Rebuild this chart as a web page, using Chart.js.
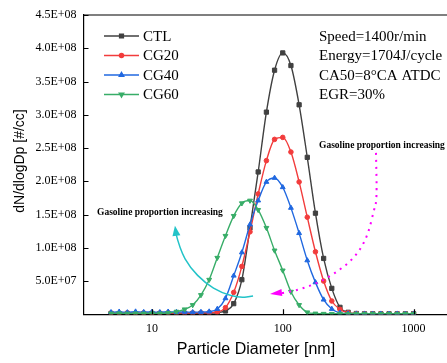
<!DOCTYPE html>
<html>
<head>
<meta charset="utf-8">
<script src="https://cdn.jsdelivr.net/npm/chart.js@4.4.1/dist/chart.umd.min.js"></script>
<style>
  html, body { margin: 0; padding: 0; background: #fff; overflow: hidden; }
  #canvasDiv { width: 447px; height: 363px; overflow: hidden; }
</style>
</head>
<body>
<div id="canvasDiv"><canvas id="myChart" width="490" height="363"></canvas></div>
<script>
// particle diameters [nm], 16 channels per decade
const diameters = [4.87, 5.62, 6.49, 7.50, 8.66, 10.0, 11.5, 13.3, 15.4, 17.8, 20.5, 23.7, 27.4, 31.6,
  36.5, 42.2, 48.7, 56.2, 64.9, 75.0, 86.6, 100, 115.5, 133.4, 154.0, 177.8, 205.4, 237.1, 273.8,
  316.2, 365.2, 421.7, 487.0, 562.3, 649.4, 749.9, 866.0, 1000];

// dN/dlogDp in units of 1E+08 #/cc
const ctl = [0.012, 0.010, 0.012, 0.010, 0.011, 0.012, 0.010, 0.013, 0.012, 0.014, 0.012, 0.013, 0.015, 0.025,
  0.05, 0.16, 0.52, 1.30, 2.14, 3.04, 3.67, 3.93, 3.74, 3.15, 2.36, 1.52, 0.84, 0.39, 0.105, 0.03, 0.012,
  0.008, 0.008, 0.007, 0.008, 0.007, 0.008, 0.009];
const cg20 = [0.020, 0.018, 0.022, 0.019, 0.021, 0.018, 0.020, 0.022, 0.019, 0.021, 0.020, 0.022, 0.024,
  0.035, 0.10, 0.33, 0.72, 1.24, 1.81, 2.31, 2.63, 2.66, 2.44, 1.99, 1.46, 0.94, 0.50, 0.20, 0.075, 0.022, 0.010,
  0.008, 0.007, 0.008, 0.007, 0.008, 0.007, 0.008];
const cg40 = [0.030, 0.038, 0.028, 0.040, 0.032, 0.035, 0.030, 0.038, 0.033, 0.036, 0.030, 0.034,
  0.04, 0.08, 0.24, 0.58, 0.93, 1.35, 1.71, 1.99, 2.05, 1.91, 1.60, 1.22, 0.81, 0.48, 0.22, 0.08, 0.022, 0.010,
  0.008, 0.008, 0.007, 0.008, 0.007, 0.008, 0.007, 0.008];
const cg60 = [0.012, 0.015, 0.011, 0.014, 0.012, 0.015, 0.013,
  0.02, 0.04, 0.075, 0.14, 0.29, 0.52, 0.85, 1.18, 1.48, 1.67, 1.71, 1.57, 1.30, 0.96, 0.66, 0.34, 0.14, 0.03, 0.012,
  0.008, 0.007, 0.008, 0.007, 0.008, 0.007, 0.008, 0.007, 0.008, 0.007, 0.008, 0.007];

const seriesNames = ['CTL', 'CG20', 'CG40', 'CG60'];
const seriesValues = [ctl, cg20, cg40, cg60];
const seriesColors = ['#404040', '#f23c3c', '#2068e0', '#38ad68'];
const seriesPoints = ['rect', 'circle', 'triangle', 'triangle'];
const seriesRotation = [0, 0, 0, 180];
const seriesRadius = [3.0, 2.3, 2.8, 2.8];

const xTicks = [10, 100, 1000];
const yMax = 4.5e8, yStep = 5e7;

const conditionText = ['Speed=1400r/min', 'Energy=1704J/cycle', 'CA50=8\u00B0CA ATDC', 'EGR=30%'];
const arrowLabel = 'Gasoline proportion increasing';
// arrow paths in data coordinates [diameter nm, dN/dlogDp], first point is the tip
const cyanArrow = [[15.0, 1.33e8], [16.4, 0.97e8], [19.6, 0.70e8], [25.5, 0.47e8], [34.3, 0.32e8], [47.1, 0.245e8], [59.3, 0.275e8]];
const pinkArrow = [[79.9, 0.305e8], [124, 0.35e8], [186, 0.47e8], [274, 0.665e8], [369, 0.89e8], [448, 1.19e8], [498, 1.57e8], [525, 1.72e8], [516, 2.44e8]];

function sci(v) {
  if (v === 0) return '';
  let e = Math.floor(Math.log10(v) + 1e-9);
  let m = v / Math.pow(10, e);
  return m.toFixed(1) + 'E+' + String(e).padStart(2, '0');
}

function smoothPath(ctx, pts) {
  ctx.moveTo(pts[0][0], pts[0][1]);
  for (let i = 1; i < pts.length - 1; i++) {
    let mx = (pts[i][0] + pts[i + 1][0]) / 2, my = (pts[i][1] + pts[i + 1][1]) / 2;
    ctx.quadraticCurveTo(pts[i][0], pts[i][1], mx, my);
  }
  let last = pts[pts.length - 1];
  ctx.lineTo(last[0], last[1]);
}

function arrowHead(ctx, tip, from, len, half) {
  let ang = Math.atan2(tip[1] - from[1], tip[0] - from[0]);
  ctx.beginPath();
  ctx.moveTo(tip[0], tip[1]);
  ctx.lineTo(tip[0] - len * Math.cos(ang) + half * Math.sin(ang), tip[1] - len * Math.sin(ang) - half * Math.cos(ang));
  ctx.lineTo(tip[0] - len * Math.cos(ang) - half * Math.sin(ang), tip[1] - len * Math.sin(ang) + half * Math.cos(ang));
  ctx.closePath();
  ctx.fill();
}

const decor = {
  id: 'decor',
  afterDraw(chart) {
    const ctx = chart.ctx, a = chart.chartArea, x = chart.scales.x, y = chart.scales.y;
    ctx.save();

    // top frame line and inward tick marks
    ctx.strokeStyle = '#000';
    ctx.lineWidth = 1.2;
    ctx.beginPath();
    ctx.moveTo(a.left, a.top);
    ctx.lineTo(a.right + 20, a.top);
    y.ticks.forEach(t => {
      if (!t.value) return;
      let py = Math.round(y.getPixelForValue(t.value)) + 0.5;
      ctx.moveTo(a.left, py);
      ctx.lineTo(a.left + 5, py);
    });
    xTicks.forEach(v => {
      let px = Math.round(x.getPixelForValue(v)) + 0.5;
      ctx.moveTo(px, a.bottom);
      ctx.lineTo(px, a.bottom - 5);
    });
    ctx.stroke();

    // axis titles
    ctx.fillStyle = '#000';
    ctx.font = '16px "Liberation Sans", Arial, sans-serif';
    ctx.textAlign = 'center';
    ctx.textBaseline = 'middle';
    ctx.fillText('Particle Diameter [nm]', 256, 350);
    ctx.save();
    ctx.translate(20, 161);
    ctx.rotate(-Math.PI / 2);
    ctx.font = '14px "Liberation Sans", Arial, sans-serif';
    ctx.fillText('dN/dlogDp [#/cc]', 0, 0);
    ctx.restore();

    // legend inside the plot
    ctx.textAlign = 'left';
    ctx.font = '15px "Liberation Serif", "Times New Roman", serif';
    seriesNames.forEach((name, i) => {
      let ly = 36 + i * 19.5;
      ctx.strokeStyle = seriesColors[i];
      ctx.lineWidth = 1.6;
      ctx.beginPath();
      ctx.moveTo(104, ly);
      ctx.lineTo(139, ly);
      ctx.stroke();
      ctx.fillStyle = seriesColors[i];
      if (Chart.helpers && Chart.helpers.drawPoint) {
        Chart.helpers.drawPoint(ctx, { pointStyle: seriesPoints[i], radius: seriesRadius[i] * 0.85, rotation: seriesRotation[i], borderWidth: 1 }, 121.5, ly);
      }
      ctx.fillStyle = '#000';
      ctx.fillText(name, 143, ly + 1);
    });

    // operating conditions
    conditionText.forEach((t, i) => ctx.fillText(t, 319, 37 + i * 19.5));

    // annotation labels
    ctx.font = 'bold 9.5px "Liberation Serif", "Times New Roman", serif';
    ctx.fillText(arrowLabel, 319, 146);
    ctx.fillText(arrowLabel, 97, 212.5);

    // cyan solid arrow
    let cp = cyanArrow.map(p => [x.getPixelForValue(p[0]), y.getPixelForValue(p[1])]);
    ctx.strokeStyle = '#22c3c8';
    ctx.fillStyle = '#22c3c8';
    ctx.lineWidth = 1.5;
    ctx.beginPath();
    smoothPath(ctx, [[cp[0][0] + 0.5, cp[0][1] + 6]].concat(cp.slice(1)));
    ctx.stroke();
    arrowHead(ctx, cp[0], [cp[0][0] + 1.5, cp[0][1] + 10], 10, 4);

    // magenta dotted arrow
    let pp = pinkArrow.map(p => [x.getPixelForValue(p[0]), y.getPixelForValue(p[1])]);
    ctx.strokeStyle = '#ff00ff';
    ctx.fillStyle = '#ff00ff';
    ctx.lineWidth = 2;
    ctx.setLineDash([2, 5]);
    ctx.beginPath();
    smoothPath(ctx, [[pp[0][0] + 12, pp[0][1] - 1]].concat(pp.slice(1)));
    ctx.stroke();
    ctx.setLineDash([]);
    arrowHead(ctx, pp[0], [pp[0][0] + 12, pp[0][1] - 1.5], 12, 3.5);

    ctx.restore();
  }
};

let datasets = seriesNames.map((name, i) => ({
  label: name,
  data: diameters.map((d, k) => ({ x: d, y: seriesValues[i][k] * 1e8 })),
  borderColor: seriesColors[i],
  backgroundColor: seriesColors[i],
  borderWidth: 1.4,
  pointStyle: seriesPoints[i],
  rotation: seriesRotation[i],
  pointRadius: seriesRadius[i],
  pointBorderWidth: 1,
  cubicInterpolationMode: 'monotone',
  order: 3 - i
}));

let ctx = document.getElementById('myChart').getContext('2d');
let myChart = new Chart(ctx, {
  type: 'line',
  data: { datasets: datasets },
  options: {
    responsive: false,
    animation: false,
    layout: { padding: { left: 0, right: 14, top: 15, bottom: 0 } },
    plugins: { legend: { display: false }, tooltip: { enabled: false } },
    scales: {
      x: {
        type: 'logarithmic',
        min: 3,
        max: 3000,
        afterBuildTicks: s => { s.ticks = xTicks.map(v => ({ value: v })); },
        afterFit: s => { s.height = 48.7; },
        grid: { display: false, drawTicks: false },
        border: { display: true, color: '#000', width: 1.2 },
        ticks: {
          color: '#000',
          padding: 7,
          maxRotation: 0,
          autoSkip: false,
          font: { family: '"Liberation Serif", "Times New Roman", serif', size: 12 },
          callback: v => String(v)
        }
      },
      y: {
        min: 0,
        max: yMax,
        afterFit: s => { s.width = 83.5; },
        grid: { display: false, drawTicks: false },
        border: { display: true, color: '#000', width: 1.2 },
        ticks: {
          stepSize: yStep,
          color: '#000',
          padding: 7,
          font: { family: '"Liberation Serif", "Times New Roman", serif', size: 12 },
          callback: v => sci(v)
        }
      }
    }
  },
  plugins: [decor]
});
</script>
</body>
</html>
